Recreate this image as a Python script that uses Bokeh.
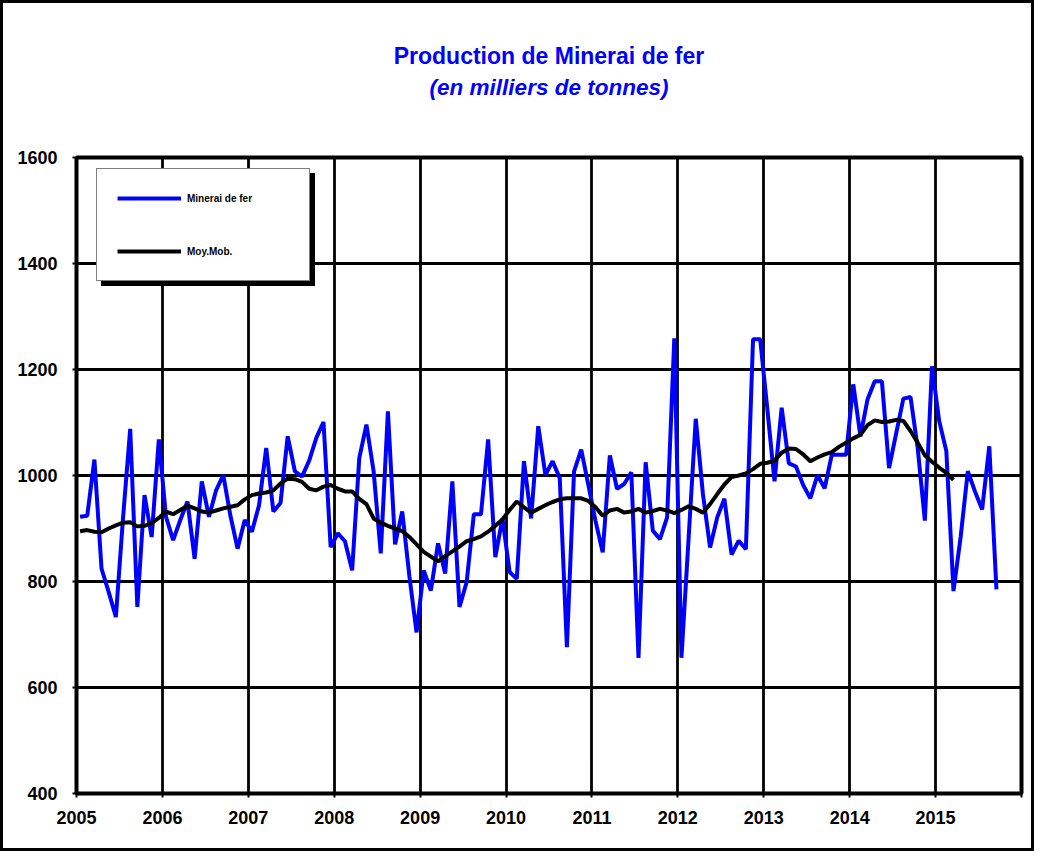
from bokeh.plotting import figure
from bokeh.models import Range1d, FixedTicker, Legend, LegendItem, Title
from bokeh.embed import file_html
from bokeh.resources import INLINE

# ---- data (monthly, Jan 2005 ...) ----
year_ticks = [2005, 2006, 2007, 2008, 2009, 2010, 2011, 2012, 2013, 2014, 2015, 2016]
year_labels = {2016: ""}
value_ticks = [400, 600, 800, 1000, 1200, 1400, 1600]

minerai = [
    922, 924, 1030, 824, 780, 733, 920, 1088, 752, 963, 884, 1068,      # 2005
    922, 878, 916, 951, 843, 989, 922, 972, 1001, 924, 862, 916,        # 2006
    894, 944, 1052, 932, 948, 1074, 1008, 998, 1028, 1071, 1101, 865,   # 2007
    891, 876, 821, 1033, 1096, 1008, 853, 1121, 870, 932, 810, 704,     # 2008
    821, 783, 872, 815, 989, 752, 799, 927, 927, 1068, 846, 919,        # 2009
    818, 805, 1027, 919, 1093, 1001, 1027, 995, 676, 1008, 1049, 982,   # 2010
    914, 855, 1038, 975, 984, 1006, 656, 1025, 896, 880, 921, 1259,     # 2011
    656, 882, 1107, 965, 864, 921, 956, 851, 877, 861, 1257, 1257,      # 2012
    1125, 989, 1128, 1023, 1017, 982, 957, 1001, 976, 1039, 1039, 1039, # 2013
    1172, 1074, 1144, 1178, 1178, 1014, 1080, 1145, 1148, 1052, 915, 1206,  # 2014
    1103, 1046, 782, 884, 1008, 970, 936, 1055, 785,                    # 2015
]

moy_mob = [
    895, 897, 894, 893, 900, 906, 911, 912, 904, 905, 910, 920,         # 2005
    932, 927, 935, 943, 938, 932, 930, 934, 938, 941, 944, 955,         # 2006
    963, 966, 968, 972, 985, 994, 993, 988, 975, 972, 979, 982,         # 2007
    975, 970, 970, 956, 946, 919, 911, 905, 900, 895, 884, 870,         # 2008
    856, 847, 838, 848, 857, 866, 876, 880, 885, 894, 905, 917,         # 2009
    935, 951, 940, 930, 937, 944, 950, 955, 957, 957, 957, 952,         # 2010
    940, 924, 934, 937, 930, 932, 937, 930, 933, 937, 934, 929,         # 2011
    935, 942, 937, 930, 946, 965, 983, 997, 1000, 1004, 1012, 1022,     # 2012
    1024, 1028, 1043, 1051, 1050, 1040, 1027, 1034, 1040, 1044, 1054, 1062,  # 2013
    1070, 1077, 1095, 1104, 1101, 1102, 1105, 1103, 1084, 1062, 1038, 1026,  # 2014
    1015, 1005, 992,                                                    # 2015
]

start_year = 2005
x_min = [start_year + (i + 0.5) / 12 for i in range(len(minerai))]
x_moy = [start_year + (i + 0.5) / 12 for i in range(len(moy_mob))]

FONT = "'Liberation Sans', Arial, sans-serif"
BLUE = "#0000FF"

p = figure(width=1034, height=851,
           x_range=Range1d(2005, 2016), y_range=Range1d(400, 1600),
           output_backend="svg", toolbar_location=None, title=None,
           min_border_left=73, min_border_right=16,
           min_border_top=154, min_border_bottom=61,
           background_fill_color="white", border_fill_color="white")
p.styles = {"border": "3px solid black"}

p.outline_line_color = "black"
p.outline_line_width = 4

p.xaxis.ticker = FixedTicker(ticks=year_ticks)
p.xaxis.major_label_overrides = year_labels
p.yaxis.ticker = FixedTicker(ticks=value_ticks)

p.grid.grid_line_color = "black"
p.grid.grid_line_width = 2.8

for ax in (p.xaxis, p.yaxis):
    ax.axis_line_color = None
    ax.major_tick_line_color = "black"
    ax.major_tick_line_width = 2
    ax.major_tick_in = 0
    ax.major_tick_out = 4
    ax.minor_tick_line_color = None
    ax.major_label_text_font = FONT
    ax.major_label_text_font_style = "bold"
    ax.major_label_text_font_size = "18px"
    ax.major_label_text_color = "black"
p.yaxis.major_label_standoff = 15
p.xaxis.major_label_standoff = 13

r1 = p.line(x_min, minerai, line_color=BLUE, line_width=4)
r2 = p.line(x_moy, moy_mob, line_color="black", line_width=4)

def make_legend(loc, bg, labels):
    return Legend(
        items=[LegendItem(label=labels[0], renderers=[r1]),
               LegendItem(label=labels[1], renderers=[r2])],
        location=loc, orientation="vertical",
        background_fill_color=bg, background_fill_alpha=1.0,
        border_line_color="black", border_line_width=1.5,
        padding=20, spacing=35, glyph_width=64, glyph_height=18,
        label_height=18, label_width=102, label_standoff=6, margin=0,
        label_text_font=FONT, label_text_font_style="bold",
        label_text_font_size="10px", label_text_color="black",
    )

# shadow box behind the legend (no texts), then the legend itself
p.add_layout(make_legend((25, 507), "black", [" ", " "]))
p.add_layout(make_legend((20, 512), "white", ["Minerai de fer", "Moy.Mob."]))

spacer = Title(text=" ", align="center", text_font=FONT,
               text_font_size="22.5px", standoff=29)
sub = Title(text="(en milliers de tonnes)", align="center", text_color=BLUE,
            text_font=FONT, text_font_size="22.5px", text_font_style="bold italic",
            standoff=4)
main = Title(text="Production de Minerai de fer", align="center", text_color=BLUE,
             text_font=FONT, text_font_size="23px", text_font_style="bold",
             standoff=4)
p.add_layout(spacer, "above")
p.add_layout(sub, "above")
p.add_layout(main, "above")

open("out.html", "w").write(file_html(p, INLINE))
